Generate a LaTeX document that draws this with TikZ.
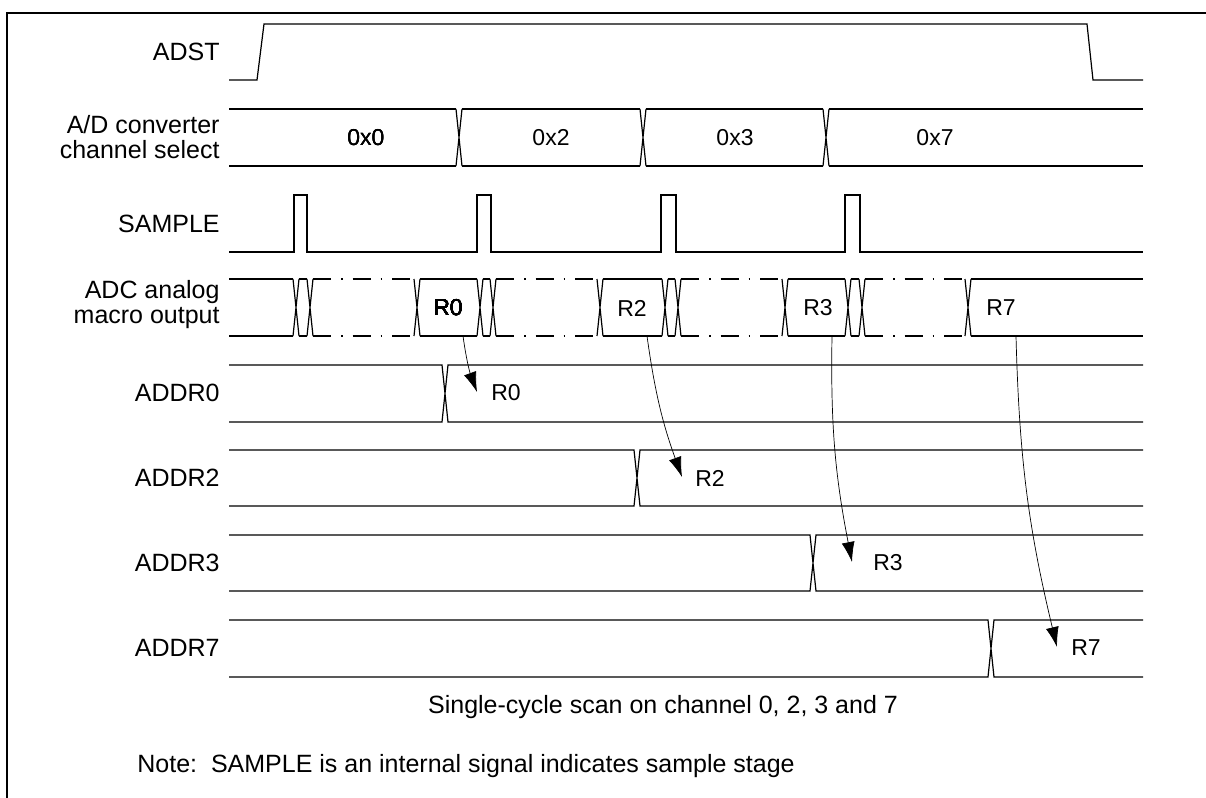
\documentclass[tikz,border=0pt]{standalone}
\usepackage{fontspec}
\setmainfont{Liberation Sans}
\usetikzlibrary{arrows.meta}

\newcommand{\xing}[3]{% crossing of a bus at x=#1, top #2, bottom #3
  \draw[sig] (#1-3,#2) -- (#1+3,#3) (#1-3,#3) -- (#1+3,#2);}

\begin{document}
\begin{tikzpicture}[x=0.5pt, y=-0.5pt, >={Latex[length=10pt,width=6.5pt]},
  every node/.style={font=\fontsize{12.5}{12.5}\selectfont, inner sep=0pt}]
\tikzstyle{sig}=[line width=0.6pt, line join=miter]
\tikzstyle{dd}=[sig, dash pattern=on 9pt off 5pt on 0.8pt off 5pt]
\tikzstyle{lbl}=[anchor=east, align=right]
\tikzstyle{val}=[font=\fontsize{11.5}{13}\selectfont]
\tikzstyle{arr}=[->, line width=0.35pt]
\useasboundingbox (0,0) rectangle (1206,798);
\draw[line width=0.9pt] (7,798) -- (7,13) -- (1206,13);

% signal names
\node[lbl] (nADST) at (220,52) {ADST};
\node[lbl] (nCHS) at (220,137) {A/D converter\\channel select};
\node[lbl] (nSMP) at (220,224) {SAMPLE};
\node[lbl] (nANA) at (220,305) {ADC analog\\macro output};
\foreach \n/\y in {0/393,2/478,3/563,7/648}
  \node[lbl] (nADDR\n) at (220,\y) {ADDR\n};

% ADST
\draw[sig] (229,80) -- (257,80) -- (264,24) -- (1087,24) -- (1093,80) -- (1143,80);

% channel select
\foreach \a/\b in {229/456,462/640,646/823,829/1143}
  \draw[sig] (\a,109) -- (\b,109) (\a,166) -- (\b,166);
\foreach \c in {459,643,826} \xing{\c}{109}{166}
\node[val] (v0) at (366,138) {0x0};
\node[val] (v2) at (551,138) {0x2};
\node[val] (v3) at (735,138) {0x3};
\node[val] (v7) at (935,138) {0x7};

% SAMPLE
\draw[sig] (229,252) -- (294,252) -- (294,195) -- (307,195) -- (307,252)
  -- (477,252) -- (477,195) -- (491,195) -- (491,252)
  -- (661,252) -- (661,195) -- (676,195) -- (676,252)
  -- (845,252) -- (845,195) -- (860,195) -- (860,252) -- (1143,252);

% ADC analog macro output
\foreach \a/\b in {229/293,299/307,420/477,483/490,603/662,668/675,788/845,851/859,971/1143}
  \draw[sig] (\a,279) -- (\b,279) (\a,336) -- (\b,336);
\foreach \a/\b in {313/414,496/597,681/782,865/965}
  \draw[dd] (\a,279) -- (\b,279) (\a,336) -- (\b,336);
\foreach \c in {296,310,417,480,493,600,665,678,785,848,862,968} \xing{\c}{279}{336}
\node[val] (ra0) at (448,308) {R0};
\node[val] (ra2) at (632,308) {R2};
\node[val] (ra3) at (818,308) {R3};
\node[val] (ra7) at (1001,308) {R7};

% ADDRn registers
\foreach \t/\b/\c in {365/422/445,450/506/637,535/591/813,620/677/991}
  \draw[sig] (229,\t) -- (\c-3,\t) -- (\c+3,\b) -- (1143,\b)
             (229,\b) -- (\c-3,\b) -- (\c+3,\t) -- (1143,\t);
\node[val] (rd0) at (506,393) {R0};
\node[val] (rd2) at (710,478) {R2};
\node[val] (rd3) at (888,563) {R3};
\node[val] (rd7) at (1086,648) {R7};

% result transfer
\coordinate (s0) at (463,336);  \coordinate (t0) at (477,392);
\coordinate (s2) at (647,336);  \coordinate (t2) at (682,477);
\coordinate (s3) at (832,336);  \coordinate (t3) at (852,562);
\coordinate (s7) at (1016,336); \coordinate (t7) at (1057,647);
\foreach \n in {0,2,3,7} \draw[arr] (s\n) to[bend right=6] (t\n);

\node[anchor=base] (cap) at (663,713) {Single-cycle scan on channel 0, 2, 3 and 7};
\node[anchor=base west] (note) at (137,772) {Note:\ \ SAMPLE is an internal signal indicates sample stage};
\end{tikzpicture}
\end{document}
